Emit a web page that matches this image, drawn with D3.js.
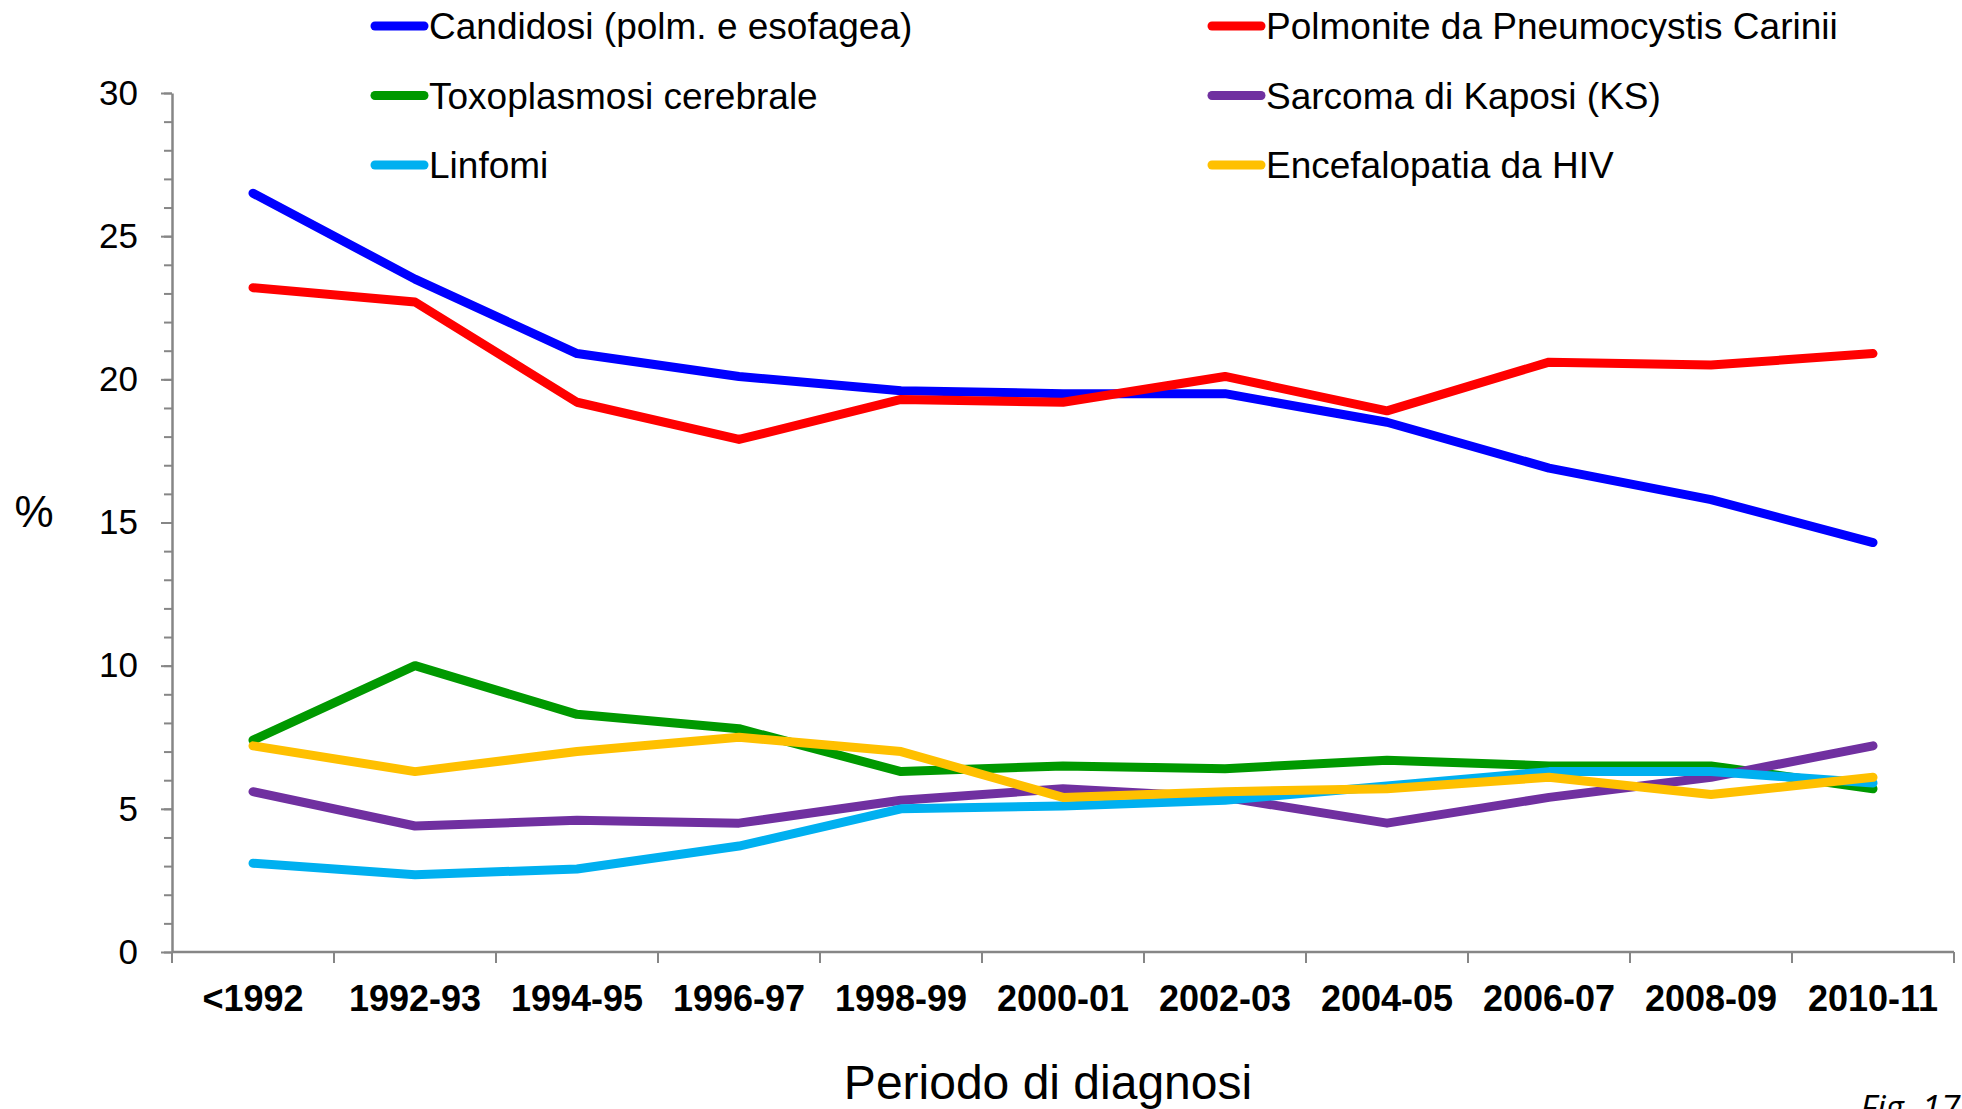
<!DOCTYPE html>
<html>
<head>
<meta charset="utf-8">
<script src="https://cdn.jsdelivr.net/npm/d3@7"></script>
<style>
  body { margin: 0; background: #fff; }
  text { font-family: Arial, "Liberation Sans", sans-serif; fill: #000; }
</style>
</head>
<body>
<svg id="chart"></svg>
<script>
var w = 1962;
var h = 1109;

var periods = ["<1992", "1992-93", "1994-95", "1996-97", "1998-99", "2000-01",
  "2002-03", "2004-05", "2006-07", "2008-09", "2010-11"];

var candidosi = [26.5, 23.5, 20.9, 20.1, 19.6, 19.5, 19.5, 18.5, 16.9, 15.8, 14.3];
var polmonite = [23.2, 22.7, 19.2, 17.9, 19.3, 19.2, 20.1, 18.9, 20.6, 20.5, 20.9];
var toxoplasmosi = [7.4, 10.0, 8.3, 7.8, 6.3, 6.5, 6.4, 6.7, 6.5, 6.5, 5.7];
var sarcoma = [5.6, 4.4, 4.6, 4.5, 5.3, 5.7, 5.4, 4.5, 5.4, 6.1, 7.2];
var linfomi = [3.1, 2.7, 2.9, 3.7, 5.0, 5.1, 5.3, 5.8, 6.3, 6.3, 5.9];
var encefalopatia = [7.2, 6.3, 7.0, 7.5, 7.0, 5.4, 5.6, 5.7, 6.1, 5.5, 6.1];

var seriesNames = ["Candidosi (polm. e esofagea)", "Polmonite da Pneumocystis Carinii",
  "Toxoplasmosi cerebrale", "Sarcoma di Kaposi (KS)", "Linfomi", "Encefalopatia da HIV"];
var seriesColors = ["#0000ff", "#ff0000", "#009900", "#7030a0", "#00b0f0", "#ffc000"];
var seriesValues = [candidosi, polmonite, toxoplasmosi, sarcoma, linfomi, encefalopatia];

var yTicks = [0, 5, 10, 15, 20, 25, 30];

var svg = d3.select("#chart")
  .attr("width", w)
  .attr("height", h);

var margin = {left: 172, right: 8, top: 93, bottom: 157};

var x = d3.scaleBand()
  .domain(periods)
  .range([margin.left, w - margin.right]);

var y = d3.scaleLinear()
  .domain([0, 30])
  .range([h - margin.bottom, margin.top]);

var axisColor = "#868686";

// minor ticks every 1
svg.append("g")
  .attr("transform", "translate(" + margin.left + ",0)")
  .call(d3.axisLeft(y).tickValues(d3.range(0, 31, 1)).tickSize(8).tickFormat(""))
  .call(function(g) {
    g.select(".domain").remove();
    g.selectAll("line").attr("stroke", axisColor).attr("stroke-width", 2);
  });

// y axis with labels
svg.append("g")
  .attr("transform", "translate(" + margin.left + ",0)")
  .call(d3.axisLeft(y).tickValues(yTicks).tickSize(11).tickSizeOuter(0).tickPadding(23))
  .call(function(g) {
    g.select(".domain").attr("stroke", axisColor).attr("stroke-width", 2.5);
    g.selectAll("line").attr("stroke", axisColor).attr("stroke-width", 2);
    g.selectAll("text")
      .style("font-size", "35px")
      .style("font-family", "Arial, 'Liberation Sans', sans-serif")
      .attr("fill", "#000");
  });

// x axis: ticks on the category boundaries
var xAxis = svg.append("g")
  .attr("transform", "translate(0," + y(0) + ")");

xAxis.append("line")
  .attr("x1", margin.left)
  .attr("x2", w - margin.right)
  .attr("stroke", axisColor)
  .attr("stroke-width", 2.5);

xAxis.selectAll(".xtick")
  .data(periods.concat(["end"]))
  .enter()
  .append("line")
  .attr("class", "xtick")
  .attr("x1", function(d, i) { return margin.left + i * x.bandwidth(); })
  .attr("x2", function(d, i) { return margin.left + i * x.bandwidth(); })
  .attr("y1", 0)
  .attr("y2", 11)
  .attr("stroke", axisColor)
  .attr("stroke-width", 2);

xAxis.selectAll(".xlabel")
  .data(periods)
  .enter()
  .append("text")
  .attr("class", "xlabel")
  .attr("x", function(d) { return x(d) + x.bandwidth() / 2; })
  .attr("y", 59)
  .attr("text-anchor", "middle")
  .style("font-size", "36px")
  .style("font-weight", "bold")
  .text(function(d) { return d; });

var line = d3.line()
  .x(function(d, i) { return x(periods[i]) + x.bandwidth() / 2; })
  .y(function(d) { return y(d); });

svg.selectAll(".series")
  .data(seriesValues)
  .enter()
  .append("path")
  .attr("class", "series")
  .attr("d", line)
  .attr("fill", "none")
  .attr("stroke", function(d, i) { return seriesColors[i]; })
  .attr("stroke-width", 9)
  .attr("stroke-linecap", "round")
  .attr("stroke-linejoin", "round");

// legend, two columns
var legend = svg.selectAll(".legend")
  .data(seriesNames)
  .enter()
  .append("g")
  .attr("class", "legend")
  .attr("transform", function(d, i) {
    var col = i % 2;
    var row = Math.floor(i / 2);
    return "translate(" + (col ? 1209 : 372) + "," + (26 + row * 69.5) + ")";
  });

legend.append("line")
  .attr("x1", 3)
  .attr("x2", 52)
  .attr("stroke", function(d, i) { return seriesColors[i]; })
  .attr("stroke-width", 9)
  .attr("stroke-linecap", "round");

legend.append("text")
  .attr("x", 57)
  .attr("y", 13)
  .style("font-size", "37px")
  .text(function(d) { return d; });

svg.append("text")
  .attr("x", 34)
  .attr("y", 527)
  .attr("text-anchor", "middle")
  .style("font-size", "44px")
  .text("%");

svg.append("text")
  .attr("x", 1048)
  .attr("y", 1099)
  .attr("text-anchor", "middle")
  .style("font-size", "48px")
  .text("Periodo di diagnosi");

// figure number, cut by the bottom edge as in the original
svg.append("text")
  .attr("x", 1860)
  .attr("y", 1120)
  .style("font-size", "35px")
  .style("font-style", "italic")
  .style("font-family", "'Open Sans', sans-serif")
  .text("Fig. 17");
</script>
</body>
</html>
